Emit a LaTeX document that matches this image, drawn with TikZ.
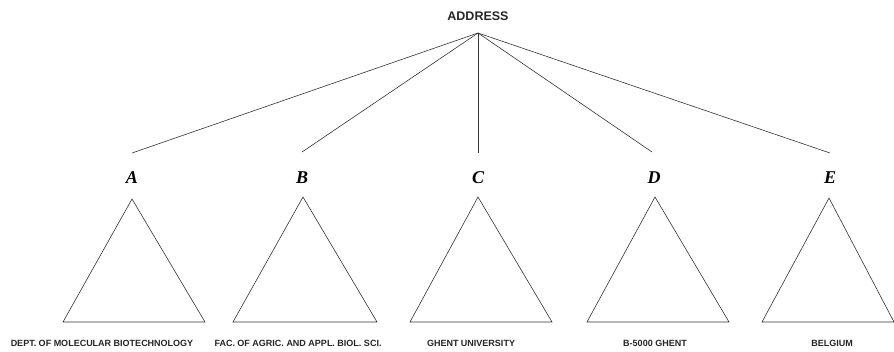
\documentclass[tikz,border=0pt]{standalone}
\usepackage{fontspec}
\setmainfont{Liberation Sans}
\newfontfamily\lettfont{Liberation Serif}
\begin{document}
\begin{tikzpicture}[x=1pt,y=-1pt,
  edge/.style={draw=black!80,line width=0.6pt},
  tri/.style={draw=black!80,line width=0.6pt},
  letter/.style={font=\lettfont\fontsize{18}{18}\selectfont\bfseries\itshape,inner sep=0pt},
  lab/.style={font=\fontsize{9}{9}\selectfont\bfseries,text=black!85,inner sep=0pt},
  top/.style={font=\fontsize{12.5}{12.5}\selectfont\bfseries,text=black!85,inner sep=0pt}]
\useasboundingbox[fill=white] (0,0) rectangle (894,351);
\node[top] (address) at (478,16) {ADDRESS};
\coordinate (hub) at (478,33);
% line ends above letters
\coordinate (ea) at (132,153);
\coordinate (eb) at (302,152);
\coordinate (ec) at (478,153);
\coordinate (ed) at (652,152);
\coordinate (ee) at (830,153);
\foreach \e in {ea,eb,ec,ed,ee} \draw[edge] (hub) -- (\e);
% letters
\node[letter] (A) at (132,178) {A};
\node[letter] (B) at (302,178) {B};
\node[letter] (C) at (478,178) {C};
\node[letter] (D) at (654,178) {D};
\node[letter] (E) at (830,178) {E};
% triangles
\draw[tri] (132,199) -- (205,322) -- (63,322) -- cycle;
\draw[tri] (303,197) -- (377,322) -- (233,322) -- cycle;
\draw[tri] (478,197) -- (552,322) -- (410,322) -- cycle;
\draw[tri] (655,197) -- (729,322) -- (587,322) -- cycle;
\draw[tri] (829,198) -- (894,322) -- (762,322) -- cycle;
% labels
\node[lab] (la) at (102,343) {DEPT. OF MOLECULAR BIOTECHNOLOGY};
\node[lab] (lb) at (298,343) {FAC. OF AGRIC. AND APPL. BIOL. SCI.};
\node[lab] (lc) at (471,343) {GHENT UNIVERSITY};
\node[lab] (ld) at (655,343) {B-5000 GHENT};
\node[lab] (le) at (832,343) {BELGIUM};
\end{tikzpicture}
\end{document}
